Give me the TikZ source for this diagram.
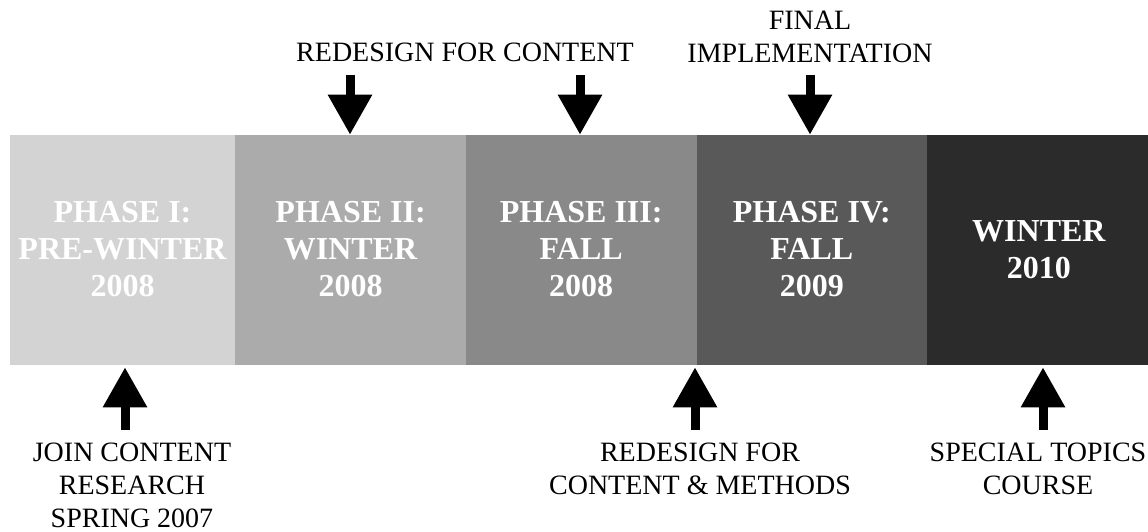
\documentclass[tikz,border=0pt]{standalone}
\usepackage{fontspec}
\setmainfont{Liberation Serif}
\usepackage{tikz}
\usetikzlibrary{arrows.meta}
\usetikzlibrary{positioning}
\definecolor{phaseone}{HTML}{D3D3D3}
\definecolor{phasetwo}{HTML}{ABABAB}
\definecolor{phasethree}{HTML}{898989}
\definecolor{phasefour}{HTML}{595959}
\definecolor{phasefive}{HTML}{2B2B2B}
\begin{document}
\begin{tikzpicture}[x=1pt,y=-1pt,
    phase/.style={fill=#1,draw=#1,line width=0.6pt,minimum width=230pt,minimum height=229pt,
      inner sep=0pt,align=center,text=white,font=\fontsize{32}{37}\selectfont\bfseries},
    note/.style={align=center,inner sep=0pt,font=\fontsize{28}{33}\selectfont},
    bigarrow/.style={line width=9pt,-{Triangle[width=42pt,length=40pt]}}]
  \useasboundingbox (0,0) rectangle (1148,531);
  % the five phases
  \node[phase=phaseone,minimum width=225pt] (ph1) at (122.5,249.5) {PHASE I:\\PRE-WINTER\\2008};
  \node[phase=phasetwo,right=0pt of ph1] (ph2) {PHASE II:\\WINTER\\2008};
  \node[phase=phasethree,right=0pt of ph2] (ph3) {PHASE III:\\FALL\\2008};
  \node[phase=phasefour,right=0pt of ph3] (ph4) {PHASE IV:\\FALL\\2009};
  \node[phase=phasefive,right=0pt of ph4,minimum width=223pt] (ph5) {WINTER\\2010};
  % notes above
  \node[note] (n2) at (465,52) {REDESIGN FOR CONTENT};
  \node[note] (n4) at (810,37) {FINAL\\IMPLEMENTATION};
  % notes below
  \node[note] (n1) at (132,485) {JOIN CONTENT\\RESEARCH\\SPRING 2007};
  \node[note] (n3) at (700,469) {REDESIGN FOR\\CONTENT \& METHODS};
  \node[note] (n5) at (1038,469) {SPECIAL TOPICS\\COURSE};
  % arrows
  \coordinate (t2) at (350,75);
  \coordinate (t3) at (580,75);
  \coordinate (t4) at (810,75);
  \draw[bigarrow] (t2) -- (t2 |- ph2.north);
  \draw[bigarrow] (t3) -- (t3 |- ph3.north);
  \draw[bigarrow] (t4) -- (t4 |- ph4.north);
  \coordinate (b1) at (125,430);
  \coordinate (b3) at (695,430);
  \coordinate (b5) at (1043,430);
  \draw[bigarrow,shorten >=3pt] (b1) -- (b1 |- ph1.south);
  \draw[bigarrow,shorten >=3pt] (b3) -- (b3 |- ph3.south);
  \draw[bigarrow,shorten >=3pt] (b5) -- (b5 |- ph5.south);
\end{tikzpicture}
\end{document}
